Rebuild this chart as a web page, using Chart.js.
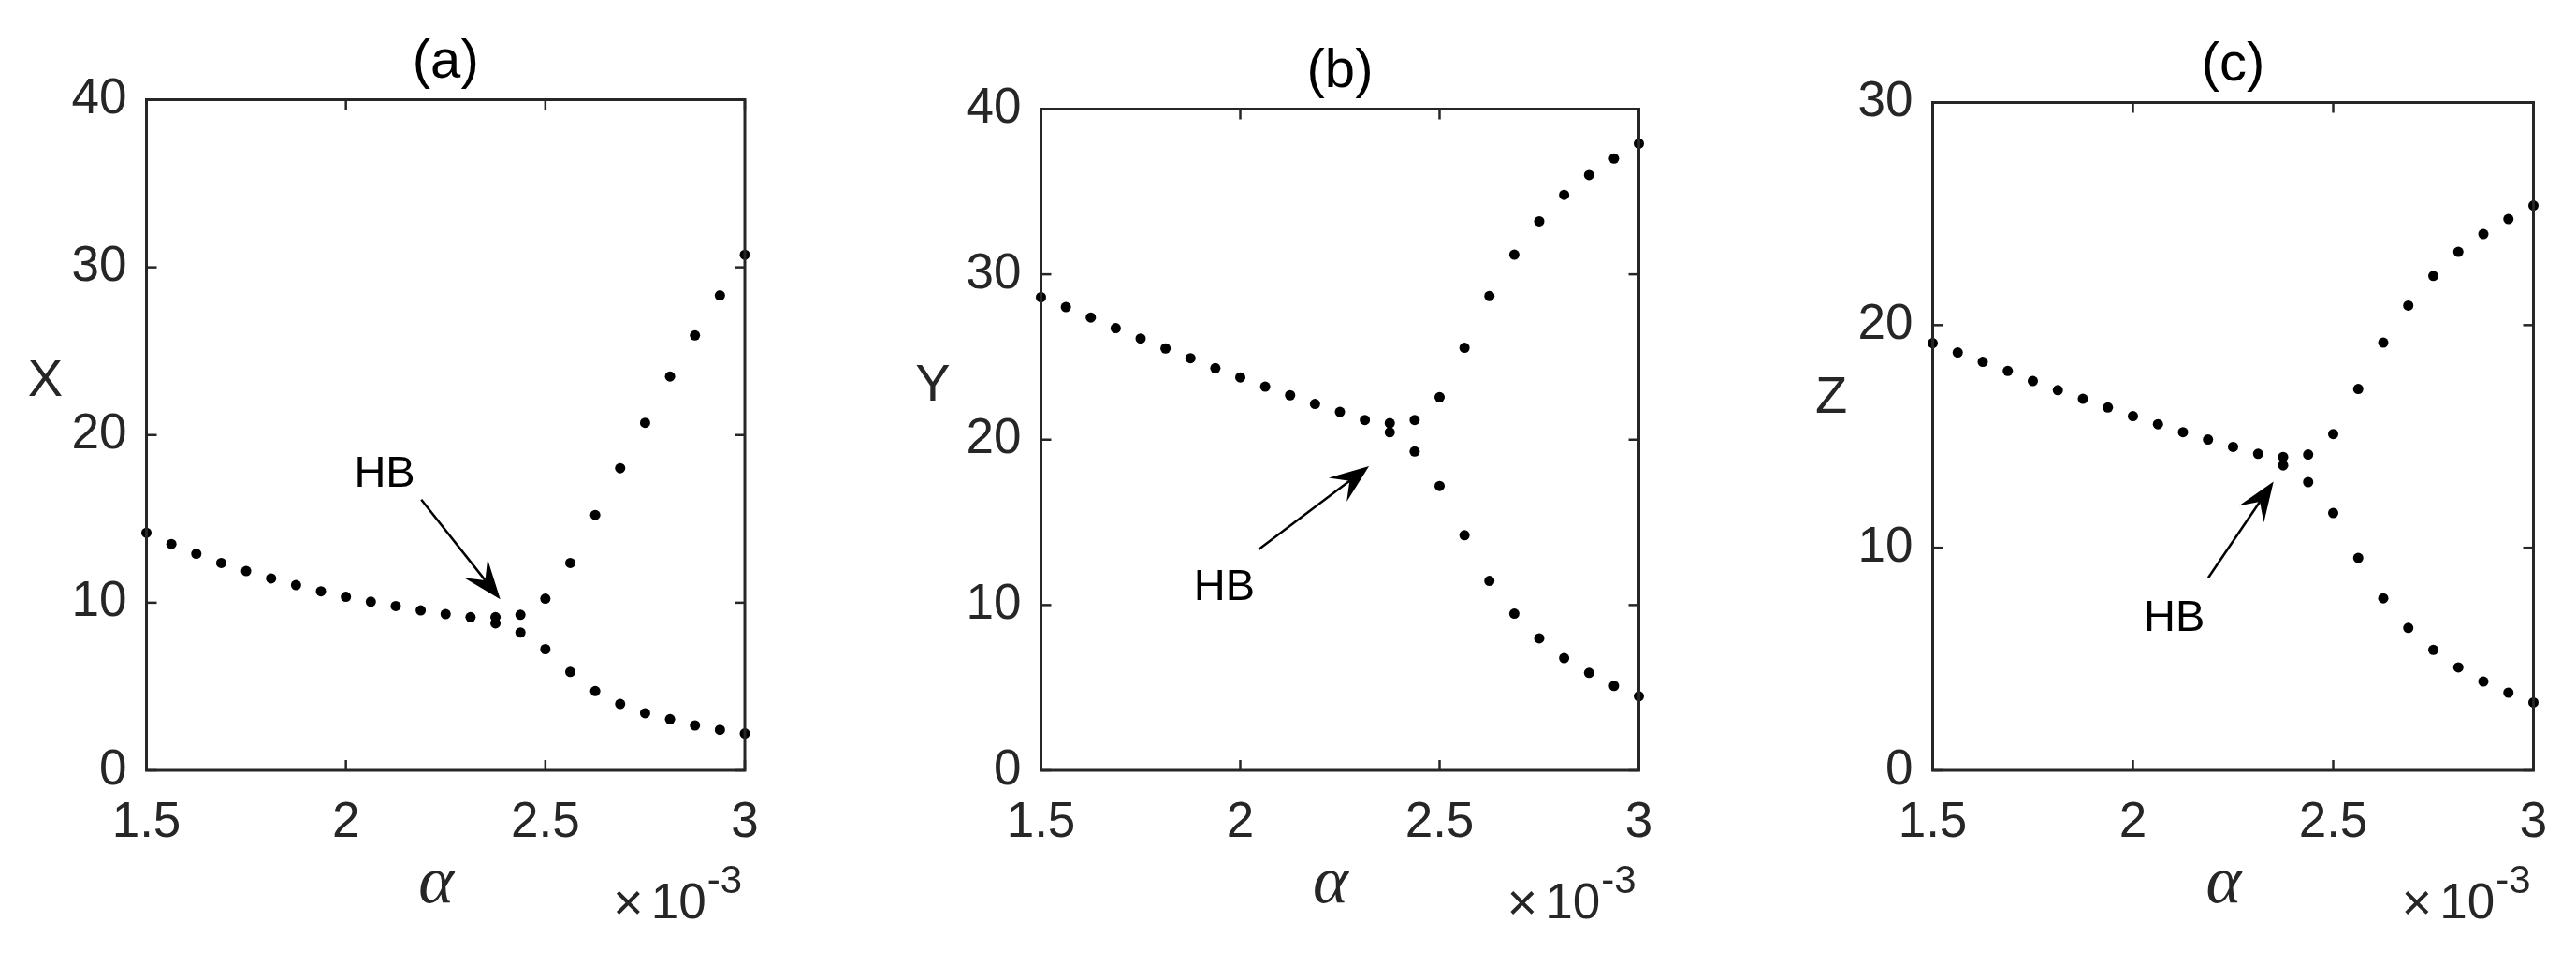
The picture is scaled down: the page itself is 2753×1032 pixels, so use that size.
<!DOCTYPE html>
<html><head><meta charset="utf-8">
<script src="https://cdn.jsdelivr.net/npm/chart.js@4/dist/chart.umd.min.js"></script>
<style>
html,body{margin:0;padding:0;background:#fff;overflow:hidden}
#wrap{position:relative;width:2753px;height:1032px;background:#fff}
canvas{position:absolute;top:0}
</style></head><body>
<div id="wrap">
<canvas id="ca" width="930" height="1032" style="left:0px"></canvas>
<canvas id="cb" width="960" height="1032" style="left:930px"></canvas>
<canvas id="cc" width="863" height="1032" style="left:1890px"></canvas>
</div>
<script>
// alpha values (x 10^-3)
const alpha = [1.5,1.5625,1.625,1.6875,1.75,1.8125,1.875,1.9375,2,2.0625,2.125,2.1875,2.25,2.3125,2.375,2.4375,2.5,2.5625,2.625,2.6875,2.75,2.8125,2.875,2.9375,3];
const xTicks = [1.5,2,2.5,3];
const xTickLabels = ['1.5','2','2.5','3'];

// Panel (a): X
const xUpper = [14.17,13.50,12.92,12.37,11.89,11.45,11.05,10.68,10.35,10.06,9.80,9.54,9.32,9.14,9.14,9.28,10.24,12.37,15.23,18.02,20.73,23.49,25.94,28.33,30.75];
const xLower = [null,null,null,null,null,null,null,null,null,null,null,null,null,null,8.77,8.22,7.23,5.87,4.73,3.96,3.41,3.05,2.68,2.42,2.20];
// Panel (b): Y
const yUpper = [28.62,28.02,27.39,26.75,26.12,25.52,24.93,24.33,23.77,23.21,22.69,22.16,21.68,21.19,21.00,21.19,22.57,25.56,28.69,31.19,33.21,34.81,36.01,37.01,37.91];
const yLower = [null,null,null,null,null,null,null,null,null,null,null,null,null,null,20.45,19.29,17.20,14.22,11.46,9.48,7.99,6.79,5.90,5.11,4.48];
// Panel (c): Z
const zUpper = [19.19,18.77,18.35,17.94,17.49,17.08,16.69,16.30,15.91,15.55,15.19,14.86,14.53,14.22,14.08,14.19,15.11,17.13,19.21,20.88,22.21,23.29,24.09,24.76,25.37];
const zLower = [null,null,null,null,null,null,null,null,null,null,null,null,null,null,13.70,12.95,11.56,9.54,7.73,6.40,5.41,4.63,3.99,3.49,3.05];

// HB annotations in data units: [alpha, value]
const hbTextA = [2.097, 17.86], hbFromA = [2.189, 16.15], hbToA = [2.387, 10.2];
const hbTextB = [1.96, 11.27],  hbFromB = [2.046, 13.36], hbToB = [2.323, 18.4];
const hbTextC = [2.103, 6.99],  hbFromC = [2.188, 8.65],  hbToC = [2.351, 12.97];

const panels = [
  {id:'ca', offset:0, left:156.5, right:796, top:106.5, bottom:823, ymax:40, title:'(a)', label:'X', labelX:48.5, labelBase:423,
   upper:xUpper, lower:xLower, hbText:hbTextA, hbFrom:hbFromA, hbTo:hbToA},
  {id:'cb', offset:930, left:1112.5, right:1751.5, top:116.5, bottom:823, ymax:40, title:'(b)', label:'Y', labelX:997, labelBase:428,
   upper:yUpper, lower:yLower, hbText:hbTextB, hbFrom:hbFromB, hbTo:hbToB},
  {id:'cc', offset:1890, left:2065.5, right:2707.5, top:109.5, bottom:823, ymax:30, title:'(c)', label:'Z', labelX:1957, labelBase:441,
   upper:zUpper, lower:zLower, hbText:hbTextC, hbFrom:hbFromC, hbTo:hbToC}
];

const FONT = '"Liberation Sans", Arial, Helvetica, sans-serif';
const AX = '#262626';

function deco(p) {
  return {
    id: 'deco_' + p.id,
    afterDraw(chart) {
      const ctx = chart.ctx, ca = chart.chartArea, xs = chart.scales.x, ys = chart.scales.y;
      ctx.save();
      const seg = (x1,y1,x2,y2) => { ctx.beginPath(); ctx.moveTo(x1,y1); ctx.lineTo(x2,y2); ctx.stroke(); };
      // inward ticks
      ctx.strokeStyle = AX; ctx.lineWidth = 2.5;
      const tl = 11;
      xs.ticks.forEach(t => { const px = xs.getPixelForValue(t.value); seg(px, ca.bottom, px, ca.bottom - tl); seg(px, ca.top, px, ca.top + tl); });
      ys.ticks.forEach(t => { const py = ys.getPixelForValue(t.value); seg(ca.left, py, ca.left + tl, py); seg(ca.right, py, ca.right - tl, py); });
      // box
      ctx.lineWidth = 3;
      ctx.strokeRect(ca.left, ca.top, ca.right - ca.left, ca.bottom - ca.top);
      // title
      ctx.fillStyle = '#000'; ctx.font = '58px ' + FONT; ctx.textAlign = 'center'; ctx.textBaseline = 'alphabetic';
      ctx.fillText(p.title, (ca.left + ca.right) / 2, ca.top - 23.5);
      // y label
      ctx.fillStyle = AX; ctx.font = '56px ' + FONT;
      ctx.fillText(p.label, p.labelX - p.offset, p.labelBase);
      // x label alpha
      ctx.font = 'italic 72px "Liberation Serif", "DejaVu Serif", serif';
      ctx.fillText('\u03B1', (ca.left + ca.right) / 2 - 10, 964);
      // x10^-3
      ctx.textAlign = 'right';
      ctx.font = '42px ' + FONT;
      const supRight = ca.right - 3;
      ctx.fillText('-3', supRight, 954);
      const supW = ctx.measureText('-3').width;
      ctx.font = '53px ' + FONT;
      const tenRight = supRight - supW - 1;
      ctx.fillText('10', tenRight, 981);
      const tenW = ctx.measureText('10').width;
      ctx.font = '56px ' + FONT;
      ctx.fillText('\u00D7', tenRight - tenW - 8, 983);
      // HB annotation
      ctx.fillStyle = '#000'; ctx.strokeStyle = '#000';
      ctx.font = '47px ' + FONT; ctx.textAlign = 'center';
      ctx.fillText('HB', xs.getPixelForValue(p.hbText[0]), ys.getPixelForValue(p.hbText[1]) + 17);
      const fx = xs.getPixelForValue(p.hbFrom[0]), fy = ys.getPixelForValue(p.hbFrom[1]);
      const tx = xs.getPixelForValue(p.hbTo[0]), ty = ys.getPixelForValue(p.hbTo[1]);
      const dx = tx - fx, dy = ty - fy, len = Math.hypot(dx, dy);
      const ux = dx / len, uy = dy / len, nx = -uy, ny = ux;
      const L = 42, Wd = 16, notch = 0.62;
      ctx.lineWidth = 2.5;
      seg(fx, fy, tx - ux * L * notch, ty - uy * L * notch);
      ctx.beginPath();
      ctx.moveTo(tx, ty);
      ctx.lineTo(tx - ux * L + nx * Wd, ty - uy * L + ny * Wd);
      ctx.lineTo(tx - ux * L * notch, ty - uy * L * notch);
      ctx.lineTo(tx - ux * L - nx * Wd, ty - uy * L - ny * Wd);
      ctx.closePath();
      ctx.fill();
      ctx.restore();
    }
  };
}

panels.forEach(p => {
  const canvas = document.getElementById(p.id);
  const W = canvas.width, H = canvas.height;
  const yAxisW = 100, xAxisH = 100;
  const lx = p.left - p.offset, rx = p.right - p.offset;
  const upperPts = alpha.map((a, i) => ({x: a, y: p.upper[i]}));
  const lowerPts = alpha.map((a, i) => p.lower[i] == null ? null : ({x: a, y: p.lower[i]})).filter(v => v);
  const ds = (data) => ({data, pointRadius: 5.5, pointHoverRadius: 5.5, pointBackgroundColor: '#000', pointBorderWidth: 0, showLine: false, clip: false});
  new Chart(canvas, {
    type: 'scatter',
    data: {datasets: [ds(upperPts), ds(lowerPts)]},
    options: {
      responsive: false, animation: false, devicePixelRatio: 1,
      events: [],
      layout: {padding: {left: lx - yAxisW, right: W - rx, top: p.top, bottom: H - p.bottom - xAxisH}},
      plugins: {legend: {display: false}, tooltip: {enabled: false}, title: {display: false}},
      scales: {
        x: {
          type: 'linear', min: 1.5, max: 3,
          afterFit: s => { s.height = xAxisH; },
          afterBuildTicks: s => { s.ticks = xTicks.map(v => ({value: v})); },
          grid: {display: false, drawTicks: false}, border: {display: false},
          ticks: {padding: 25, color: AX, font: {size: 53, family: FONT}, maxRotation: 0, autoSkip: false,
                  callback: (v) => { const k = xTicks.indexOf(v); return k >= 0 ? xTickLabels[k] : String(v); }}
        },
        y: {
          type: 'linear', min: 0, max: p.ymax,
          afterFit: s => { s.width = yAxisW; },
          grid: {display: false, drawTicks: false}, border: {display: false},
          ticks: {stepSize: 10, padding: 21, color: AX, font: {size: 53, family: FONT}}
        }
      }
    },
    plugins: [deco(p)]
  });
});
</script>
</body></html>
